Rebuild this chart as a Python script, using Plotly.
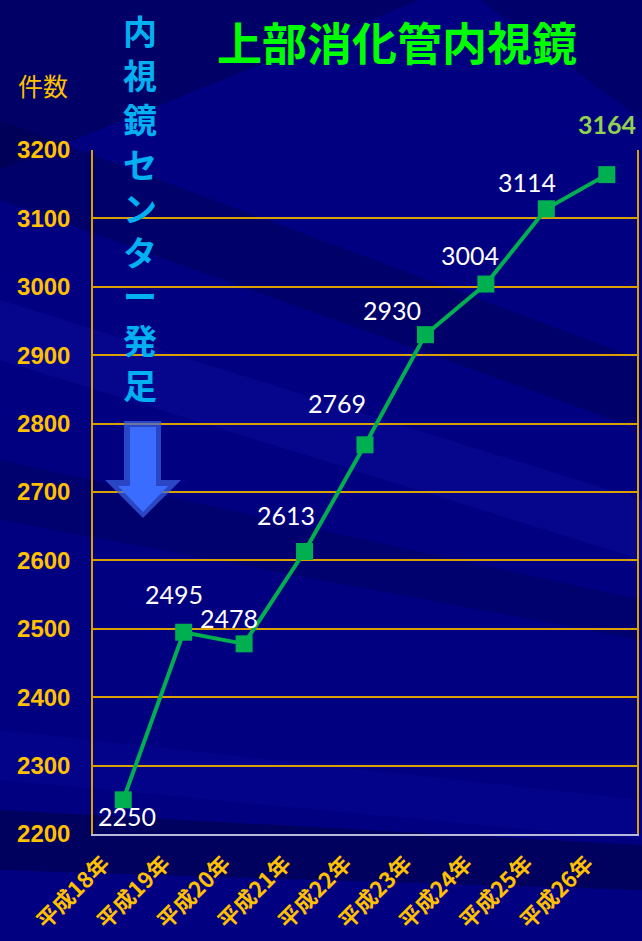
import plotly.graph_objects as go

years = ["平成18年", "平成19年", "平成20年", "平成21年", "平成22年",
         "平成23年", "平成24年", "平成25年", "平成26年"]
counts = [2250, 2495, 2478, 2613, 2769, 2930, 3004, 3114, 3164]
# label offsets in pixels (x, y) relative to each point
label_dx = [4, -10, -15, -19, -28, -33, -16, -19, 0]
label_dy = [-16, 38, 26, 37, 42, 25, 29, 27, 51]
y_ticks = [2200, 2300, 2400, 2500, 2600, 2700, 2800, 2900, 3000, 3100, 3200]

W, H = 642, 941
L, R, T, B = 93, 5, 150, 107
PW, PH = W - L - R, H - T - B

def px(x):
    return (x - L) / PW

def py(y):
    return (H - B - y) / PH

def path(points):
    return "M " + " L ".join(f"{px(x):.4f},{py(y):.4f}" for x, y in points) + " Z"

GOLD = "#ffc000"
GRID = "#d9a000"
GREEN = "#00b050"

fig = go.Figure()
fig.add_trace(go.Scatter(
    x=years, y=counts, mode="lines+markers",
    line=dict(color=GREEN, width=4),
    marker=dict(symbol="square", size=17, color=GREEN),
    hoverinfo="x+y", showlegend=False,
))

annotations = []
for i, (yr, c) in enumerate(zip(years, counts)):
    last = i == len(years) - 1
    annotations.append(dict(
        x=yr, y=c, xref="x", yref="y", text=str(c), showarrow=False,
        xanchor="center", yanchor="middle",
        xshift=label_dx[i], yshift=label_dy[i],
        font=dict(family="Lato, Open Sans, sans-serif",
                  size=25,
                  color="#92d050" if last else "#ffffff",
                  weight="bold" if last else "normal"),
    ))

annotations.append(dict(
    x=px(397), y=py(42), xref="paper", yref="paper", text="<b>上部消化管内視鏡</b>",
    xanchor="center", yanchor="middle",
    showarrow=False, font=dict(family="Noto Sans CJK JP", size=45, color="#00ff00"),
))
annotations.append(dict(
    x=px(43), y=py(85), xref="paper", yref="paper", text="件数",
    xanchor="center", yanchor="middle",
    showarrow=False, font=dict(family="Noto Sans CJK JP", size=25, color=GOLD),
))
annotations.append(dict(
    x=px(140), y=py(4), xref="paper", yref="paper", xanchor="center", yanchor="top",
    text="<br>".join("<b>" + ch + "</b>" for ch in "内視鏡センター発足"),
    showarrow=False, font=dict(family="Noto Sans CJK JP", size=34, color="#00b0f0"),
))

shapes = []
# background streaks (subtle)
streaks = [
    ([(0, 0), (420, 0), (0, 170)], "rgba(0,0,70,0.45)"),
    ([(0, 120), (642, 360), (642, 430), (0, 200)], "rgba(0,0,60,0.3)"),
    ([(0, 300), (642, 500), (642, 560), (0, 360)], "rgba(20,20,170,0.3)"),
    ([(300, 0), (642, 0), (642, 120), (480, 0)], "rgba(0,0,60,0.3)"),
    ([(0, 460), (642, 600), (642, 640), (0, 520)], "rgba(0,0,60,0.25)"),
    ([(0, 730), (642, 800), (642, 840), (0, 780)], "rgba(10,10,160,0.3)"),
    ([(0, 810), (642, 845), (642, 890), (0, 870)], "rgba(0,0,60,0.5)"),
]
for pts, col in streaks:
    shapes.append(dict(type="path", xref="paper", yref="paper", path=path(pts),
                       fillcolor=col, line=dict(width=0), layer="below"))

# arrow
outer = [(124, 421), (161, 421), (161, 480), (181, 480), (143, 518),
         (105, 480), (124, 480)]
inner = [(130, 427), (156, 427), (156, 486), (168, 486), (143, 512),
         (118, 486), (130, 486)]
shapes.append(dict(type="path", xref="paper", yref="paper", path=path(outer),
                   fillcolor="rgba(60,100,230,0.7)", line=dict(width=0)))
shapes.append(dict(type="path", xref="paper", yref="paper", path=path(inner),
                   fillcolor="#3a6cff", line=dict(width=0)))

fig.update_layout(
    width=W, height=H,
    margin=dict(l=L, r=R, t=T, b=B, pad=0, autoexpand=False),
    paper_bgcolor="#000080",
    plot_bgcolor="rgba(0,0,0,0)",
    annotations=annotations,
    shapes=shapes,
    xaxis=dict(
        type="category", range=[-0.5, 8.5], automargin=False,
        showgrid=False, showline=True, linecolor="#b8b8d8", linewidth=2,
        tickangle=-45, ticks="", ticklabelstandoff=6, ticklabelshift=-20,
        tickfont=dict(family="Noto Sans CJK JP", size=22, color=GOLD, weight="bold"),
    ),
    yaxis=dict(
        range=[2200, 3200], tickvals=y_ticks, automargin=False,
        showgrid=True, gridcolor=GRID, gridwidth=1.5,
        showline=True, mirror=True, linecolor=GRID, linewidth=1.5,
        zeroline=False, ticks="", ticklabelstandoff=16,
        tickfont=dict(family="Liberation Sans, Arial", size=24, color=GOLD, weight="bold"),
    ),
)

fig.write_html(
    "out.html",
    config={"displayModeBar": False},
    post_script="document.body.style.margin='0';document.body.style.background='#000080';"
                "document.documentElement.style.overflow='hidden';",
)
